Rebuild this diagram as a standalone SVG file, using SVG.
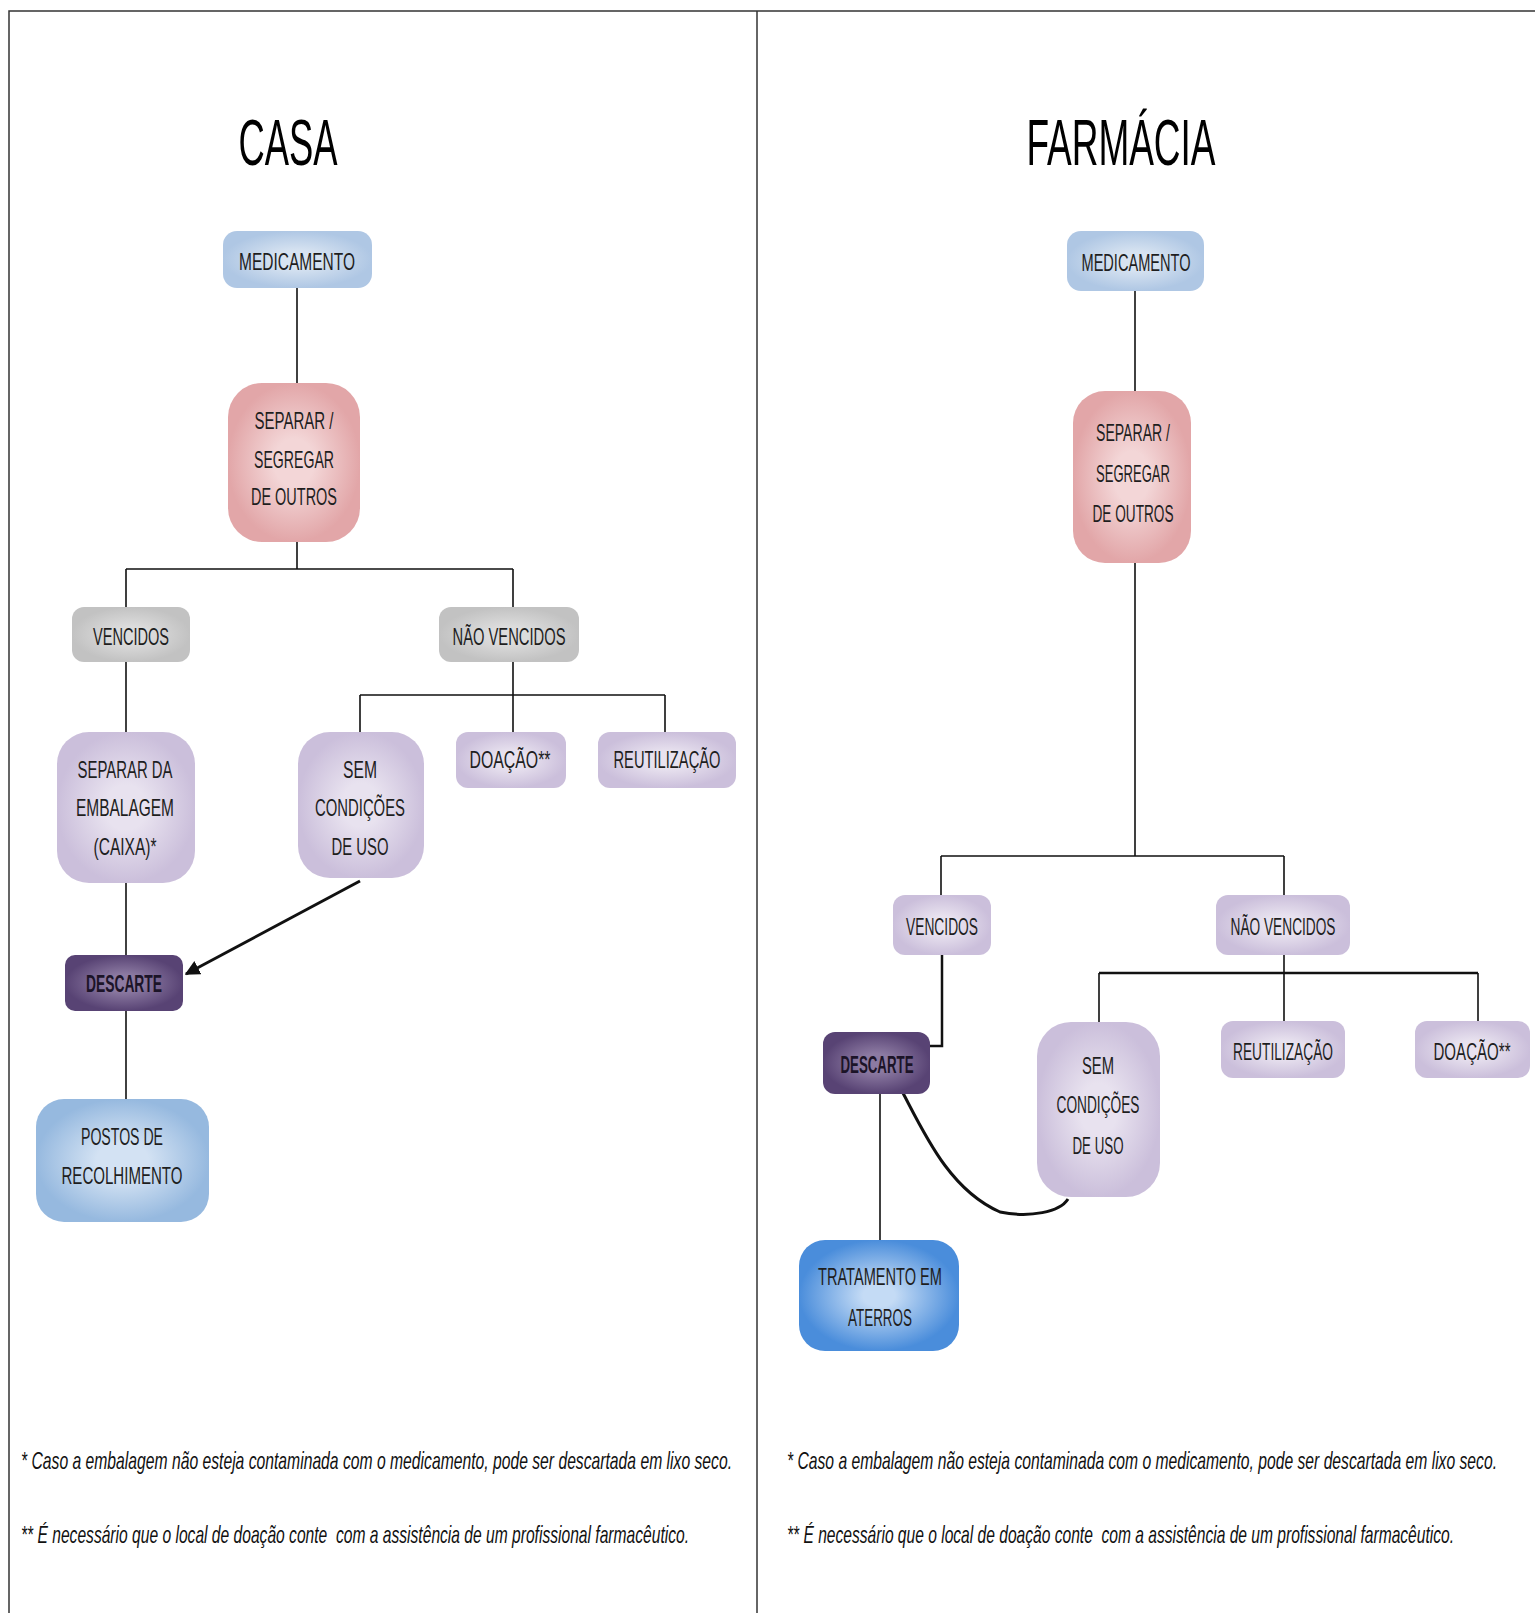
<svg xmlns="http://www.w3.org/2000/svg" width="1535" height="1613" viewBox="0 0 1535 1613">
<style>
.lbl{font-family:"Liberation Sans",Arial,sans-serif;font-size:24px;fill:#1e1e1e;text-anchor:middle}
.bold{font-weight:bold;fill:#1c1428}
.title{font-family:"Liberation Sans",Arial,sans-serif;font-size:64px;fill:#000;text-anchor:middle}
.note{font-family:"Liberation Sans",Arial,sans-serif;font-size:24px;font-style:italic;fill:#111;white-space:pre}
.ln{stroke:#111;stroke-width:1.6;fill:none}
.thk{stroke:#111;stroke-width:3;fill:none}
.frame{stroke:#333;stroke-width:1.5;fill:none}
</style>
<defs>
<radialGradient id="gBlue"><stop offset="0.3" stop-color="#d7e3f1"/><stop offset="1" stop-color="#afc7e4"/></radialGradient>
<radialGradient id="gPink"><stop offset="0.3" stop-color="#f3d6d7"/><stop offset="1" stop-color="#e2a6a8"/></radialGradient>
<radialGradient id="gGray"><stop offset="0.3" stop-color="#dcdcdc"/><stop offset="1" stop-color="#c2c2c2"/></radialGradient>
<radialGradient id="gLil"><stop offset="0.3" stop-color="#e8e2ef"/><stop offset="1" stop-color="#cbbfdb"/></radialGradient>
<radialGradient id="gDark"><stop offset="0.3" stop-color="#8c7aa2"/><stop offset="1" stop-color="#584374"/></radialGradient>
<radialGradient id="gPost"><stop offset="0.3" stop-color="#d3e2f3"/><stop offset="1" stop-color="#96b9df"/></radialGradient>
<radialGradient id="gTrat"><stop offset="0.2" stop-color="#c4dbf5"/><stop offset="1" stop-color="#4a8ddb"/></radialGradient>
<marker id="arr" viewBox="0 0 10 10" refX="9" refY="5" markerWidth="5" markerHeight="5" orient="auto" markerUnits="strokeWidth"><path d="M0,0 L10,5 L0,10 z" fill="#111"/></marker>
</defs>
<rect width="1535" height="1613" fill="#fff"/>
<g id="frame">
<path class="frame" d="M9,1613 V11 H1535"/>
<path class="frame" d="M757,11 V1613"/>
</g>
<g id="connectors">
<path class="ln" d="M297,288 V383"/>
<path class="ln" d="M297,542 V569 M126,569 H513 M126,569 V607 M513,569 V607"/>
<path class="ln" d="M126,662 V732"/>
<path class="ln" d="M513,662 V695 M360,695 H665 M360,695 V732 M513,695 V732 M665,695 V732"/>
<path class="ln" d="M126,883 V955"/>
<path class="ln" d="M126,1011 V1099"/>
<path class="thk" d="M360,881 L186,974" marker-end="url(#arr)"/>
<path class="ln" d="M1135,291 V391"/>
<path class="ln" d="M1135,563 V856 M941,856 H1284 M941,856 V895 M1284,856 V895"/>
<path class="thk" d="M942,955 V1046 H930" style="stroke-width:2.5"/>
<path class="ln" d="M880,1094 V1240"/>
<path class="ln" d="M1284,955 V973"/>
<path class="thk" d="M1099,973 H1478" style="stroke-width:2.5"/>
<path class="ln" d="M1099,973 V1022 M1284,973 V1021 M1478,973 V1021"/>
<path class="thk" d="M903,1093 C925,1135 950,1190 1000,1212 C1030,1218 1060,1212 1068,1199"/>
</g>
<g id="title-casa"><text class="title" x="288" y="165" textLength="99" lengthAdjust="spacingAndGlyphs">CASA</text></g>
<g id="title-farmacia"><text class="title" x="1121" y="165" textLength="189" lengthAdjust="spacingAndGlyphs">FARMÁCIA</text></g>

<g id="l-medicamento"><rect x="223" y="231" width="149" height="57" rx="14" fill="url(#gBlue)"/><text class="lbl" x="297" y="270" textLength="116" lengthAdjust="spacingAndGlyphs">MEDICAMENTO</text></g>
<g id="l-separar"><rect x="228" y="383" width="132" height="159" rx="34" fill="url(#gPink)"/><text class="lbl" x="294" y="429" textLength="79" lengthAdjust="spacingAndGlyphs">SEPARAR /</text><text class="lbl" x="294" y="468" textLength="80" lengthAdjust="spacingAndGlyphs">SEGREGAR</text><text class="lbl" x="294" y="505" textLength="86" lengthAdjust="spacingAndGlyphs">DE OUTROS</text></g>
<g id="l-vencidos"><rect x="72" y="607" width="118" height="55" rx="12" fill="url(#gGray)"/><text class="lbl" x="131" y="645" textLength="76" lengthAdjust="spacingAndGlyphs">VENCIDOS</text></g>
<g id="l-naovencidos"><rect x="439" y="607" width="140" height="55" rx="12" fill="url(#gGray)"/><text class="lbl" x="509" y="645" textLength="113" lengthAdjust="spacingAndGlyphs">NÃO VENCIDOS</text></g>
<g id="l-separarda"><rect x="57" y="732" width="138" height="151" rx="32" fill="url(#gLil)"/><text class="lbl" x="125" y="778" textLength="95" lengthAdjust="spacingAndGlyphs">SEPARAR DA</text><text class="lbl" x="125" y="816" textLength="98" lengthAdjust="spacingAndGlyphs">EMBALAGEM</text><text class="lbl" x="125" y="855" textLength="63" lengthAdjust="spacingAndGlyphs">(CAIXA)*</text></g>
<g id="l-sem"><rect x="298" y="732" width="126" height="146" rx="32" fill="url(#gLil)"/><text class="lbl" x="360" y="778" textLength="34" lengthAdjust="spacingAndGlyphs">SEM</text><text class="lbl" x="360" y="816" textLength="90" lengthAdjust="spacingAndGlyphs">CONDIÇÕES</text><text class="lbl" x="360" y="855" textLength="57" lengthAdjust="spacingAndGlyphs">DE USO</text></g>
<g id="l-doacao"><rect x="456" y="732" width="110" height="56" rx="12" fill="url(#gLil)"/><text class="lbl" transform="translate(510,768) scale(0.7,1)" x="0" y="0" textLength="115.7" lengthAdjust="spacingAndGlyphs">DOAÇÃO**</text></g>
<g id="l-reutilizacao"><rect x="598" y="732" width="138" height="56" rx="12" fill="url(#gLil)"/><text class="lbl" x="667" y="768" textLength="107" lengthAdjust="spacingAndGlyphs">REUTILIZAÇÃO</text></g>
<g id="l-descarte"><rect x="65" y="955" width="118" height="56" rx="10" fill="url(#gDark)"/><text class="lbl bold" x="124" y="992" textLength="76" lengthAdjust="spacingAndGlyphs">DESCARTE</text></g>
<g id="l-postos"><rect x="36" y="1099" width="173" height="123" rx="28" fill="url(#gPost)"/><text class="lbl" x="122" y="1145" textLength="82" lengthAdjust="spacingAndGlyphs">POSTOS DE</text><text class="lbl" x="122" y="1184" textLength="121" lengthAdjust="spacingAndGlyphs">RECOLHIMENTO</text></g>

<g id="r-medicamento"><rect x="1067" y="231" width="137" height="60" rx="14" fill="url(#gBlue)"/><text class="lbl" x="1136" y="271" textLength="109" lengthAdjust="spacingAndGlyphs">MEDICAMENTO</text></g>
<g id="r-separar"><rect x="1073" y="391" width="118" height="172" rx="32" fill="url(#gPink)"/><text class="lbl" x="1133" y="441" textLength="74" lengthAdjust="spacingAndGlyphs">SEPARAR /</text><text class="lbl" x="1133" y="482" textLength="74" lengthAdjust="spacingAndGlyphs">SEGREGAR</text><text class="lbl" x="1133" y="522" textLength="81" lengthAdjust="spacingAndGlyphs">DE OUTROS</text></g>
<g id="r-vencidos"><rect x="893" y="895" width="98" height="60" rx="12" fill="url(#gLil)"/><text class="lbl" x="942" y="935" textLength="72" lengthAdjust="spacingAndGlyphs">VENCIDOS</text></g>
<g id="r-naovencidos"><rect x="1216" y="895" width="134" height="60" rx="12" fill="url(#gLil)"/><text class="lbl" x="1283" y="935" textLength="105" lengthAdjust="spacingAndGlyphs">NÃO VENCIDOS</text></g>
<g id="r-descarte"><rect x="823" y="1032" width="107" height="62" rx="12" fill="url(#gDark)"/><text class="lbl bold" x="877" y="1073" textLength="73" lengthAdjust="spacingAndGlyphs">DESCARTE</text></g>
<g id="r-sem"><rect x="1037" y="1022" width="123" height="175" rx="34" fill="url(#gLil)"/><text class="lbl" x="1098" y="1074" textLength="32" lengthAdjust="spacingAndGlyphs">SEM</text><text class="lbl" x="1098" y="1113" textLength="83" lengthAdjust="spacingAndGlyphs">CONDIÇÕES</text><text class="lbl" x="1098" y="1154" textLength="51" lengthAdjust="spacingAndGlyphs">DE USO</text></g>
<g id="r-reutilizacao"><rect x="1221" y="1021" width="124" height="57" rx="12" fill="url(#gLil)"/><text class="lbl" x="1283" y="1060" textLength="100" lengthAdjust="spacingAndGlyphs">REUTILIZAÇÃO</text></g>
<g id="r-doacao"><rect x="1415" y="1021" width="115" height="57" rx="12" fill="url(#gLil)"/><text class="lbl" transform="translate(1472,1060) scale(0.65,1)" x="0" y="0" textLength="118.5" lengthAdjust="spacingAndGlyphs">DOAÇÃO**</text></g>
<g id="r-tratamento"><rect x="799" y="1240" width="160" height="111" rx="26" fill="url(#gTrat)"/><text class="lbl" x="880" y="1285" textLength="124" lengthAdjust="spacingAndGlyphs">TRATAMENTO EM</text><text class="lbl" x="880" y="1326" textLength="64" lengthAdjust="spacingAndGlyphs">ATERROS</text></g>

<g id="notes">
<text class="note" transform="translate(21,1469) scale(0.68,1)" x="0" y="0" textLength="1045.6" lengthAdjust="spacingAndGlyphs">* Caso a embalagem não esteja contaminada com o medicamento, pode ser descartada em lixo seco.</text>
<text class="note" transform="translate(21,1543) scale(0.68,1)" x="0" y="0" textLength="982.4" lengthAdjust="spacingAndGlyphs">** É necessário que o local de doação conte  com a assistência de um profissional farmacêutico.</text>
<text class="note" transform="translate(787,1469) scale(0.68,1)" x="0" y="0" textLength="1044.1" lengthAdjust="spacingAndGlyphs">* Caso a embalagem não esteja contaminada com o medicamento, pode ser descartada em lixo seco.</text>
<text class="note" transform="translate(787,1543) scale(0.68,1)" x="0" y="0" textLength="980.9" lengthAdjust="spacingAndGlyphs">** É necessário que o local de doação conte  com a assistência de um profissional farmacêutico.</text>
</g>
</svg>
